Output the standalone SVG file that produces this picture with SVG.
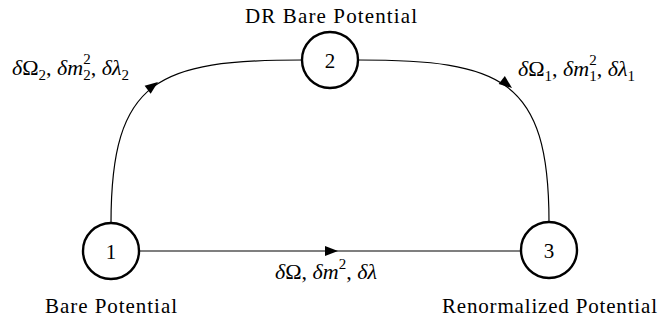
<svg xmlns="http://www.w3.org/2000/svg" width="670" height="320" viewBox="0 0 670 320">
<style>
.node{fill:#fff;stroke:#000;stroke-width:2.4}
.edge{fill:none;stroke:#000;stroke-width:1.2}
text{font-family:'Liberation Serif','DejaVu Serif','Times New Roman',serif;font-size:21px;fill:#000}
.num{text-anchor:middle}
.m{font-size:22px}
.i{font-style:italic}
.s{font-size:15px}
</style>
<defs>
<path id="ah" d="M0,0 L-13,-5 L-13,5 Z" fill="#000"/>
</defs>
<g id="connectors">
<path class="edge" d="M139,251 L521,251"/>
<path class="edge" d="M111,223 C111,78 159,60 302,60"/>
<path class="edge" d="M358,60 C501,60 549,78 549,222"/>
<use href="#ah" transform="translate(338,251)"/>
<use href="#ah" transform="translate(158,82) rotate(-37)"/>
<use href="#ah" transform="translate(512,88) rotate(38)"/>
</g>
<g id="node1">
<circle class="node" cx="111" cy="251" r="28"/>
<text class="num" x="111" y="259">1</text>
<text x="111" y="313" text-anchor="middle" textLength="132" lengthAdjust="spacing">Bare Potential</text>
</g>
<g id="node2">
<circle class="node" cx="330" cy="60" r="28"/>
<text class="num" x="330" y="68">2</text>
<text x="331" y="23" text-anchor="middle" textLength="172" lengthAdjust="spacing">DR Bare Potential</text>
</g>
<g id="node3">
<circle class="node" cx="549" cy="250" r="28"/>
<text class="num" x="549" y="258">3</text>
<text x="549.5" y="313" text-anchor="middle" textLength="215" lengthAdjust="spacing">Renormalized Potential</text>
</g>
<g id="edge-labels">
<text class="m" x="12" y="75"><tspan class="i">δ</tspan>Ω<tspan class="s" dy="5">2</tspan><tspan dy="-5">, </tspan><tspan class="i">δm</tspan><tspan class="s" dy="-11">2</tspan><tspan class="s" dx="-7.5" dy="16">2</tspan><tspan dy="-5">, </tspan><tspan class="i">δλ</tspan><tspan class="s" dy="5">2</tspan></text>
<text class="m" x="518" y="76"><tspan class="i">δ</tspan>Ω<tspan class="s" dy="5">1</tspan><tspan dy="-5">, </tspan><tspan class="i">δm</tspan><tspan class="s" dy="-11">2</tspan><tspan class="s" dx="-7.5" dy="16">1</tspan><tspan dy="-5">, </tspan><tspan class="i">δλ</tspan><tspan class="s" dy="5">1</tspan></text>
<text class="m" x="275" y="279"><tspan class="i">δ</tspan>Ω, <tspan class="i">δm</tspan><tspan class="s" dy="-10">2</tspan><tspan dy="10">, </tspan><tspan class="i">δλ</tspan></text>
</g>
</svg>
